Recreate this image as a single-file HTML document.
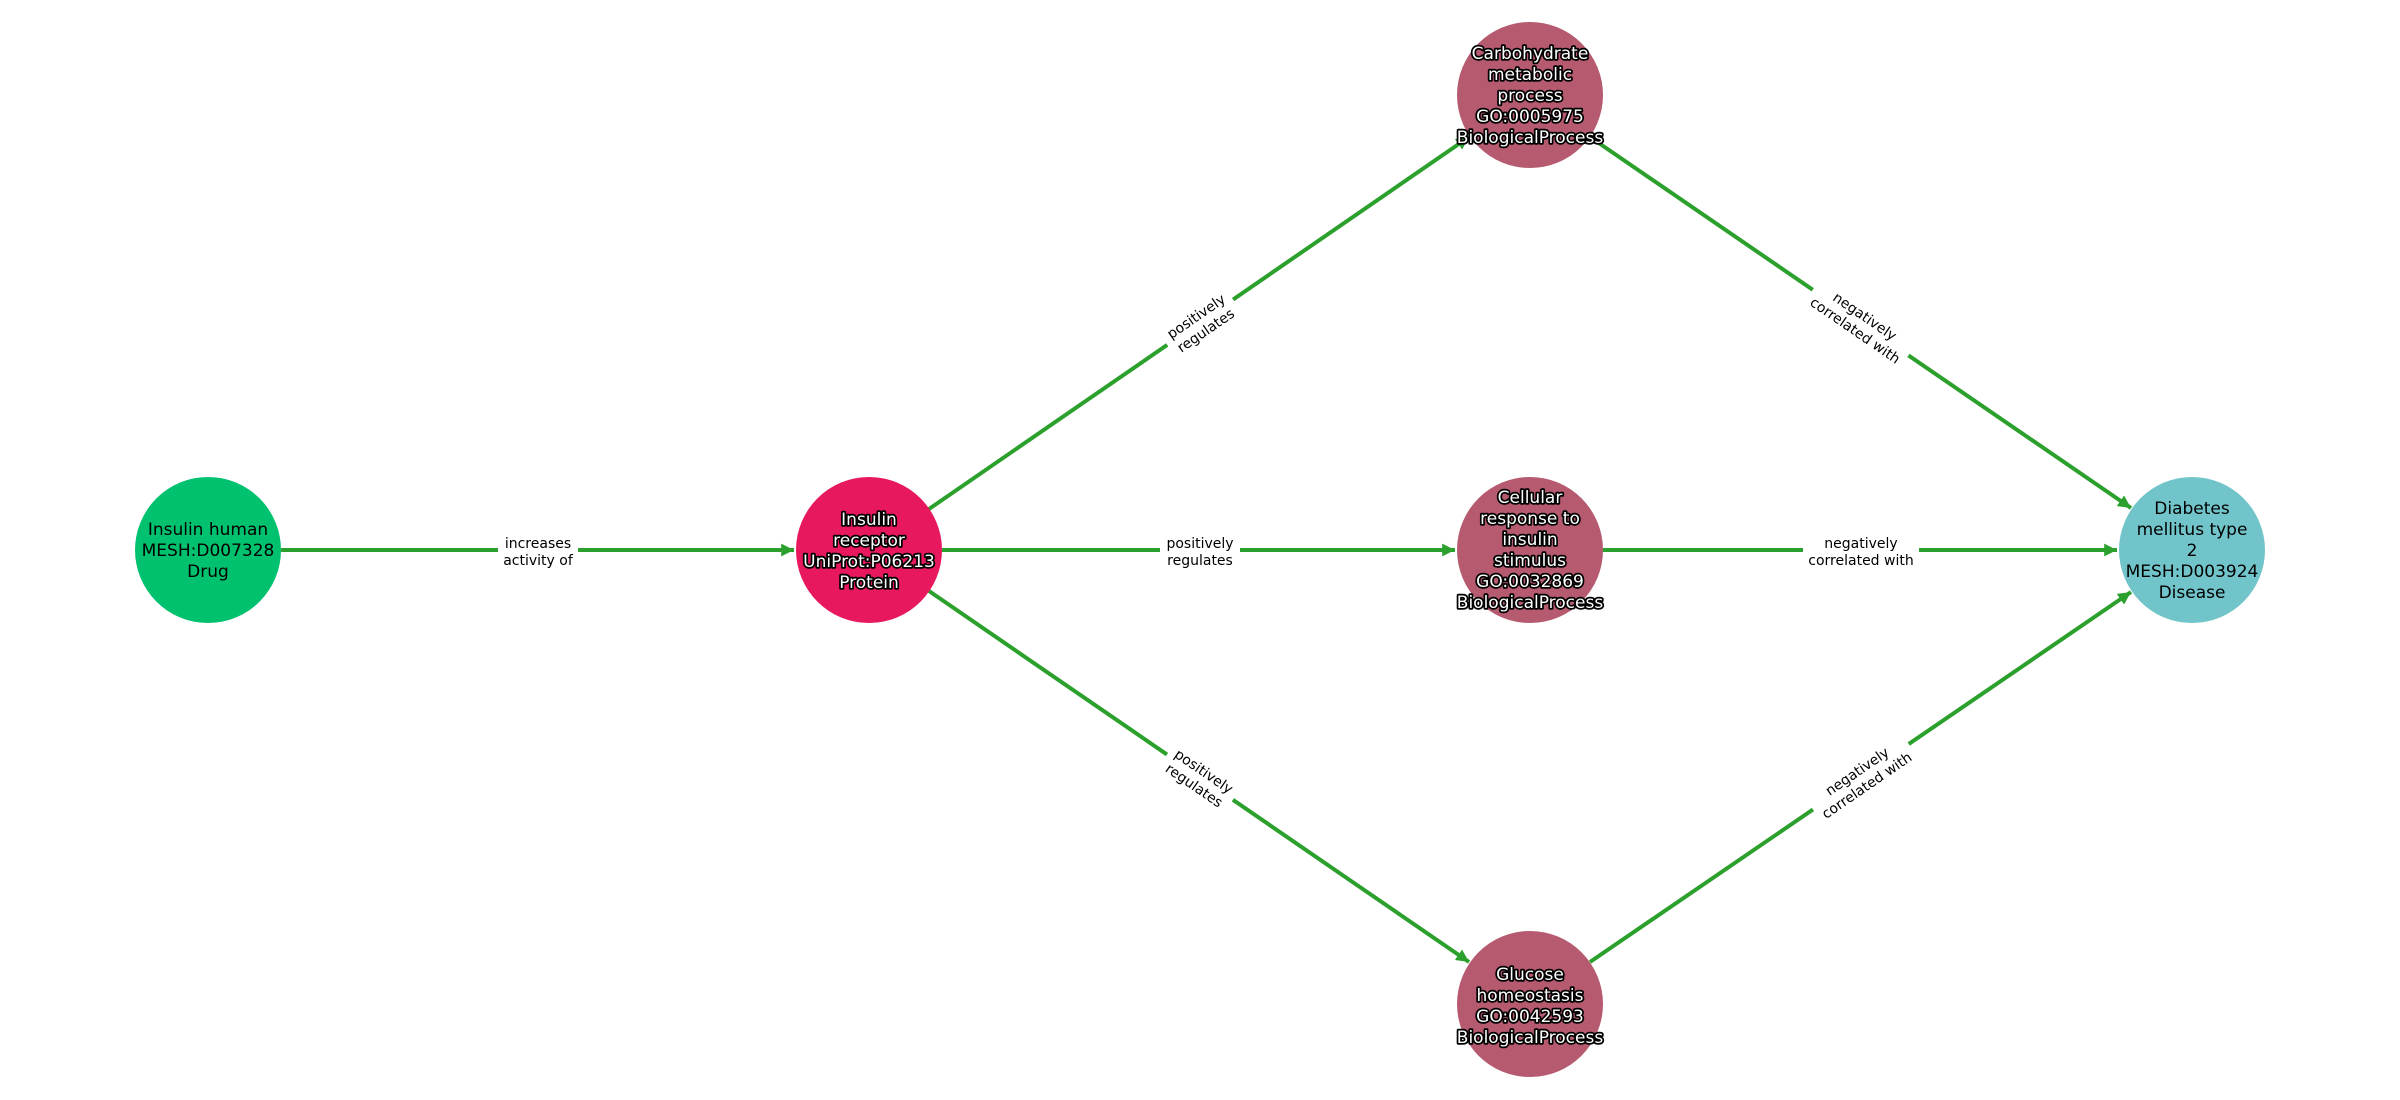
<!DOCTYPE html>
<html><head><meta charset="utf-8"><style>
html,body{margin:0;padding:0;background:#fff;}
svg{display:block;}
.nl{font-family:"DejaVu Sans","Liberation Sans",sans-serif;font-size:17px;text-anchor:middle;}
.halo{fill:#fff;stroke:#000;stroke-width:3.5px;paint-order:stroke;stroke-linejoin:round;}
.el{font-family:"DejaVu Sans","Liberation Sans",sans-serif;font-size:14px;text-anchor:middle;fill:#000;}
</style></head><body>
<svg width="2400" height="1100" viewBox="0 0 2400 1100" xmlns="http://www.w3.org/2000/svg">
<defs>
<marker id="ah" viewBox="0 0 10 10" refX="10" refY="5" markerWidth="3.2" markerHeight="3.2" orient="auto" markerUnits="strokeWidth">
<path d="M0,0 L10,5 L0,10 Z" fill="#2ca02c"/>
</marker>
</defs>
<g stroke="#2ca02c" stroke-width="4" fill="none" marker-end="url(#ah)">
<line x1="281" y1="550" x2="794" y2="550"/>
<line x1="942" y1="550" x2="1455" y2="550"/>
<line x1="1603" y1="550" x2="2117" y2="550"/>
<line x1="929" y1="509" x2="1469" y2="137"/>
<line x1="929" y1="591" x2="1469" y2="962"/>
<line x1="1590" y1="137" x2="2131" y2="508"/>
<line x1="1590" y1="962" x2="2131" y2="592"/>
</g>
<g>
<g transform="translate(538,550)"><rect x="-40" y="-17" width="80" height="34" fill="#fff"/><text class="el" y="-2">increases</text><text class="el" y="15">activity of</text></g>
<g transform="translate(1200,550)"><rect x="-40" y="-17" width="80" height="34" fill="#fff"/><text class="el" y="-2">positively</text><text class="el" y="15">regulates</text></g>
<g transform="translate(1861,550)"><rect x="-58" y="-17" width="116" height="34" fill="#fff"/><text class="el" y="-2">negatively</text><text class="el" y="15">correlated with</text></g>
<g transform="translate(1200,322) rotate(-34.5)"><rect x="-40" y="-17" width="80" height="34" fill="#fff"/><text class="el" y="-2">positively</text><text class="el" y="15">regulates</text></g>
<g transform="translate(1200,777) rotate(34.5)"><rect x="-40" y="-17" width="80" height="34" fill="#fff"/><text class="el" y="-2">positively</text><text class="el" y="15">regulates</text></g>
<g transform="translate(1861,322) rotate(34.5)"><rect x="-58" y="-17" width="116" height="34" fill="#fff"/><text class="el" y="-2">negatively</text><text class="el" y="15">correlated with</text></g>
<g transform="translate(1861,777) rotate(-34.5)"><rect x="-58" y="-17" width="116" height="34" fill="#fff"/><text class="el" y="-2">negatively</text><text class="el" y="15">correlated with</text></g>
</g>
<circle cx="208" cy="550" r="73" fill="#00c16e"/>
<circle cx="869" cy="550" r="73" fill="#e8185e"/>
<circle cx="1530" cy="95" r="73" fill="#b65a6f"/>
<circle cx="1530" cy="550" r="73" fill="#b65a6f"/>
<circle cx="1530" cy="1004" r="73" fill="#b65a6f"/>
<circle cx="2192" cy="550" r="73" fill="#71c5ca"/>
<g class="nl">
<text x="208" y="535" fill="#000">Insulin human</text>
<text x="208" y="556" fill="#000">MESH:D007328</text>
<text x="208" y="577" fill="#000">Drug</text>
</g>
<g class="nl halo">
<text x="869" y="525">Insulin</text>
<text x="869" y="546">receptor</text>
<text x="869" y="567">UniProt:P06213</text>
<text x="869" y="588">Protein</text>
</g>
<g class="nl halo">
<text x="1530" y="59">Carbohydrate</text>
<text x="1530" y="80">metabolic</text>
<text x="1530" y="101">process</text>
<text x="1530" y="122">GO:0005975</text>
<text x="1530" y="143">BiologicalProcess</text>
</g>
<g class="nl halo">
<text x="1530" y="503">Cellular</text>
<text x="1530" y="524">response to</text>
<text x="1530" y="545">insulin</text>
<text x="1530" y="566">stimulus</text>
<text x="1530" y="587">GO:0032869</text>
<text x="1530" y="608">BiologicalProcess</text>
</g>
<g class="nl halo">
<text x="1530" y="980">Glucose</text>
<text x="1530" y="1001">homeostasis</text>
<text x="1530" y="1022">GO:0042593</text>
<text x="1530" y="1043">BiologicalProcess</text>
</g>
<g class="nl" fill="#000">
<text x="2192" y="514">Diabetes</text>
<text x="2192" y="535">mellitus type</text>
<text x="2192" y="556">2</text>
<text x="2192" y="577">MESH:D003924</text>
<text x="2192" y="598">Disease</text>
</g>
</svg>
</body></html>
